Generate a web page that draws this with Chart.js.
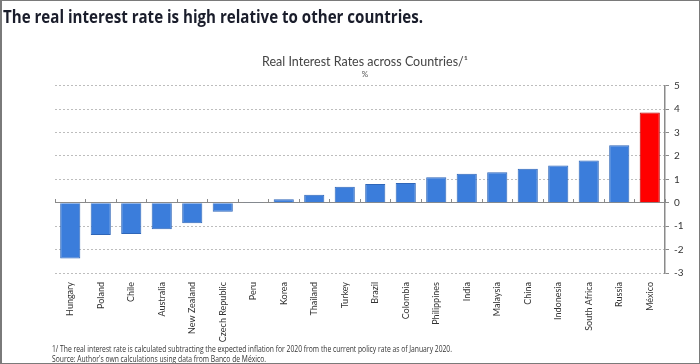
<!DOCTYPE html>
<html>
<head>
<meta charset="utf-8">
<script src="https://cdn.jsdelivr.net/npm/chart.js@4/dist/chart.umd.min.js"></script>
<style>
  html, body { margin: 0; padding: 0; background: #fff; }
  #page { position: relative; width: 700px; height: 364px; overflow: hidden; background: #fff; }
  #chart_box { position: absolute; left: 0; top: 0; width: 700px; height: 364px; }
  #heading { position: absolute; left: 3px; top: 4px; font: bold 18px "Open Sans", sans-serif; color: #1a1d2b; white-space: nowrap; transform-origin: 0 0; }
  .note { position: absolute; left: 52px; font: 9px "Open Sans", sans-serif; color: #333; white-space: nowrap; transform-origin: 0 0; }
  #frame { position: absolute; left: 0; top: 0; width: 700px; height: 364px; box-sizing: border-box; border: 1px solid #7a7a7a; border-left-width: 2px; pointer-events: none; }
</style>
</head>
<body>
<div id="page">
  <div id="chart_box"><canvas id="my_report"></canvas></div>
  <div id="heading">The real interest rate is high relative to other countries.</div>
  <div class="note" id="note1" style="top:342px">1/ The real interest rate is calculated subtracting the expected inflation for 2020 from the current policy rate as of January 2020.</div>
  <div class="note" id="note2" style="top:352px">Source: Author's own calculations using data from Banco de México.</div>
  <div id="frame"></div>
</div>
<script>
const countries = ['Hungary', 'Poland', 'Chile', 'Australia', 'New Zealand', 'Czech Republic', 'Peru', 'Korea',
    'Thailand', 'Turkey', 'Brazil', 'Colombia', 'Philippines', 'India', 'Malaysia', 'China', 'Indonesia',
    'South Africa', 'Russia', 'México'];
const real_rates = [-2.38, -1.38, -1.34, -1.13, -0.88, -0.38, 0.03, 0.15, 0.34, 0.68, 0.80, 0.84, 1.09, 1.24,
    1.30, 1.45, 1.59, 1.80, 2.45, 3.85];
const y_ticks = [-3, -2, -1, 0, 1, 2, 3, 4, 5];
const highlight = 'México';

// squeeze the html texts to the widths seen in the picture
const fit_width = (id, target) => {
    let el = document.getElementById(id)
    let w = el.getBoundingClientRect().width
    el.style.transform = 'scaleX(' + (target / w) + ')'
}
fit_width('heading', 420)
fit_width('note1', 400)
fit_width('note2', 214)

Chart.defaults.font.family = 'Lato';
Chart.defaults.color = '#333';

const ctx = document.getElementById('my_report');
new Chart(ctx, {
    type: 'bar',
    data: {
        labels: countries,
        datasets: [
            {
                label: 'Real interest rate',
                data: real_rates,
                xAxisID: 'x',
                yAxisID: 'y',
                backgroundColor: countries.map(c => c == highlight ? '#ff0000' : '#3b7ddb'),
                borderColor: countries.map(c => c == highlight ? '#b80000' : '#2f66b8'),
                borderWidth: 1,
                barPercentage: 0.66,
                categoryPercentage: 1
            }
        ]
    },
    options: {
        responsive: true,
        maintainAspectRatio: false,
        animation: false,
        layout: { padding: { left: 30, right: 0, top: 54, bottom: 0 } },
        plugins: {
            legend: { display: false },
            tooltip: { enabled: false },
            title: {
                display: true,
                text: 'Real Interest Rates across Countries/¹',
                color: '#444',
                font: { size: 12.5, weight: 'normal' },
                padding: { top: 0, bottom: 0 }
            },
            subtitle: {
                display: true,
                text: '%',
                color: '#555',
                font: { size: 8 },
                padding: { top: 1, bottom: 6 }
            }
        },
        scales: {
            x: {
                position: 'bottom',
                grid: { display: false, drawTicks: false },
                border: { display: false },
                ticks: { minRotation: 90, maxRotation: 90, padding: 9, font: { size: 9 }, color: '#333' },
                afterFit: (scale) => { scale.height = 91 }
            },
            x_zero: {
                type: 'category',
                position: { y: 0 },
                grid: { offset: true, drawOnChartArea: false, drawTicks: true, tickLength: -4, tickColor: '#8a8a8a' },
                border: { display: true, color: '#8a8a8a', width: 1 },
                ticks: { display: false }
            },
            // empty left axis, only keeps the plot 55px from the left edge
            y_left: {
                type: 'linear',
                position: 'left',
                grid: { display: false },
                border: { display: false },
                ticks: { display: false },
                afterFit: (scale) => { scale.width = 25 }
            },
            y: {
                position: 'right',
                min: y_ticks[0],
                max: y_ticks[y_ticks.length - 1],
                afterBuildTicks: (scale) => { scale.ticks = y_ticks.map(v => ({ value: v })) },
                grid: { color: '#bdbdbd', drawTicks: true, tickLength: 4, tickColor: '#8a8a8a', tickBorderDash: [] },
                border: { display: true, color: '#8a8a8a', width: 1.5, dash: [2, 2] },
                ticks: { padding: 5, font: { size: 10 }, color: '#333' },
                afterFit: (scale) => { scale.width = 35 }
            }
        }
    }
});
</script>
</body>
</html>
